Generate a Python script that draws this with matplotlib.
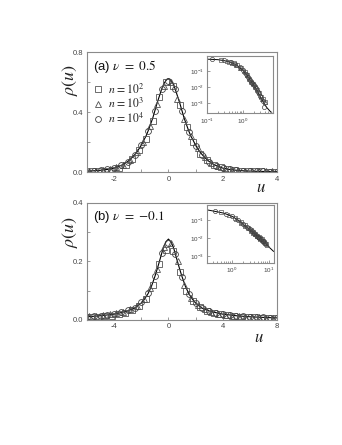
import matplotlib
matplotlib.use("Agg")
import matplotlib.pyplot as plt
from matplotlib.ticker import MultipleLocator, LogLocator, NullFormatter
import numpy as np

plt.rcParams['font.family'] = ['Liberation Sans', 'DejaVu Sans']
plt.rcParams['mathtext.fontset'] = 'stix'

# ---------------- Panel (a), nu = 0.5 ----------------
a_curve_u = [-3.0, -2.75, -2.5, -2.25, -2.0, -1.83, -1.67, -1.5, -1.33, -1.17, -1.0, -0.92, -0.83,
             -0.75, -0.67, -0.58, -0.5, -0.42, -0.33, -0.25, -0.17, -0.08, 0.0, 0.08, 0.17, 0.25,
             0.33, 0.42, 0.5, 0.58, 0.67, 0.75, 0.83, 0.92, 1.0, 1.17, 1.33, 1.5, 1.67, 1.83, 2.0,
             2.25, 2.5, 2.75, 3.0, 3.25, 3.5, 3.75, 4.0]
a_curve_r = [0.007, 0.010, 0.0135, 0.019, 0.028, 0.039, 0.052, 0.072, 0.10, 0.133, 0.18, 0.21, 0.24,
             0.275, 0.315, 0.36, 0.41, 0.46, 0.51, 0.555, 0.59, 0.615, 0.625, 0.615, 0.59, 0.555,
             0.51, 0.46, 0.41, 0.36, 0.315, 0.275, 0.24, 0.21, 0.18, 0.133, 0.10, 0.072, 0.052, 0.039,
             0.028, 0.019, 0.0135, 0.010, 0.008, 0.0065, 0.0055, 0.0045, 0.004]

a_circ_u = [-3.0, -2.75, -2.5, -2.25, -2.0, -1.75, -1.5, -1.25, -1.0, -0.75, -0.5, -0.25, 0.0, 0.25,
            0.5, 0.75, 1.0, 1.25, 1.5, 1.75, 2.0, 2.25, 2.5, 2.75, 3.0, 3.25, 3.5, 3.75, 4.0]
a_circ_r = [0.007, 0.010, 0.013, 0.019, 0.029, 0.046, 0.071, 0.116, 0.182, 0.278, 0.41, 0.553, 0.612,
            0.556, 0.412, 0.272, 0.178, 0.113, 0.070, 0.044, 0.029, 0.020, 0.014, 0.011, 0.009,
            0.007, 0.006, 0.005, 0.004]
a_tri_u = [-2.92, -2.67, -2.42, -2.17, -1.92, -1.67, -1.42, -1.17, -0.92, -0.67, -0.42, -0.17, 0.08,
           0.33, 0.58, 0.83, 1.08, 1.33, 1.58, 1.83, 2.08, 2.33, 2.58, 2.83, 3.08, 3.33, 3.58, 3.83]
a_tri_r = [0.008, 0.011, 0.016, 0.023, 0.034, 0.050, 0.085, 0.135, 0.205, 0.31, 0.455, 0.575, 0.60,
           0.49, 0.355, 0.24, 0.16, 0.10, 0.062, 0.040, 0.026, 0.018, 0.013, 0.011, 0.009, 0.008,
           0.007, 0.006]
a_sq_u = [-2.83, -2.58, -2.33, -2.08, -1.83, -1.58, -1.33, -1.08, -0.83, -0.58, -0.33, -0.08, 0.17,
          0.42, 0.67, 0.92, 1.17, 1.42, 1.67, 1.92, 2.17, 2.42, 2.67, 2.92, 3.17, 3.42, 3.67, 3.92]
a_sq_r = [0.006, 0.008, 0.012, 0.018, 0.030, 0.052, 0.090, 0.150, 0.225, 0.34, 0.50, 0.60, 0.575,
          0.45, 0.30, 0.20, 0.125, 0.080, 0.050, 0.033, 0.022, 0.015, 0.011, 0.009, 0.007, 0.006,
          0.005, 0.004]

# inset (a)
ai_curve_u = [0.1, 0.2, 0.3, 0.45, 0.65, 1.0, 1.3, 1.6, 2.0, 2.5, 3.0, 3.6, 4.5, 5.5, 6.8]
ai_curve_r = [0.57, 0.53, 0.46, 0.37, 0.25, 0.115, 0.055, 0.027, 0.013, 0.0058, 0.0026, 0.0012,
              5.5e-4, 3.3e-4, 2.0e-4]
ai_circ_u = [0.135, 0.3, 0.45, 0.6, 0.8, 1.0, 1.2, 1.4, 1.6, 1.8, 2.0, 2.3, 2.6, 3.0, 3.5, 3.8]
ai_circ_r = [0.56, 0.47, 0.37, 0.28, 0.18, 0.115, 0.07, 0.042, 0.028, 0.019, 0.013, 0.0085, 0.005,
             0.0028, 0.0013, 0.0006]
ai_sq_u = [0.25, 0.4, 0.55, 0.7, 0.9, 1.1, 1.3, 1.5, 1.7, 1.9, 2.2, 2.5, 2.8, 3.2, 3.6, 4.2]
ai_sq_r = [0.5, 0.4, 0.31, 0.23, 0.15, 0.09, 0.055, 0.034, 0.022, 0.016, 0.01, 0.0065, 0.0045,
           0.0025, 0.0018, 0.0011]
ai_tri_u = [0.35, 0.5, 0.65, 0.85, 1.05, 1.25, 1.45, 1.65, 1.85, 2.1, 2.4, 2.7, 3.1, 3.4, 4.0]
ai_tri_r = [0.44, 0.34, 0.26, 0.17, 0.10, 0.062, 0.04, 0.026, 0.018, 0.012, 0.0075, 0.005, 0.003,
            0.0019, 0.0012]

# ---------------- Panel (b), nu = -0.1 ----------------
b_curve_u = [-6.0, -5.0, -4.0, -3.5, -3.0, -2.5, -2.0, -1.75, -1.5, -1.25, -1.0, -0.8, -0.6, -0.4,
             -0.2, 0.0, 0.2, 0.4, 0.6, 0.8, 1.0, 1.25, 1.5, 1.75, 2.0, 2.5, 3.0, 3.5, 4.0, 5.0, 6.0,
             7.0, 8.0]
b_curve_r = [0.011, 0.0145, 0.020, 0.025, 0.031, 0.040, 0.058, 0.072, 0.090, 0.115, 0.148, 0.178,
             0.21, 0.243, 0.266, 0.276, 0.266, 0.243, 0.21, 0.178, 0.148, 0.115, 0.090, 0.072, 0.058,
             0.040, 0.031, 0.025, 0.020, 0.0145, 0.011, 0.0088, 0.0072]

b_circ_u = [-6.0, -5.5, -5.0, -4.5, -4.0, -3.5, -3.0, -2.5, -2.0, -1.5, -1.0, -0.5, 0.0, 0.5, 1.0,
            1.5, 2.0, 2.5, 3.0, 3.5, 4.0, 4.5, 5.0, 5.5, 6.0, 6.5, 7.0, 7.5, 8.0]
b_circ_r = [0.011, 0.012, 0.015, 0.018, 0.021, 0.026, 0.033, 0.042, 0.060, 0.092, 0.150, 0.228,
            0.262, 0.225, 0.146, 0.088, 0.058, 0.040, 0.030, 0.024, 0.020, 0.016, 0.014, 0.012,
            0.011, 0.010, 0.009, 0.008, 0.007]
b_tri_u = [-5.83, -5.33, -4.83, -4.33, -3.83, -3.33, -2.83, -2.33, -1.83, -1.33, -0.83, -0.33, 0.17,
           0.67, 1.17, 1.67, 2.17, 2.67, 3.17, 3.67, 4.17, 4.67, 5.17, 5.67, 6.17, 6.67, 7.17, 7.67]
b_tri_r = [0.012, 0.014, 0.016, 0.019, 0.023, 0.028, 0.036, 0.048, 0.070, 0.110, 0.175, 0.250,
           0.262, 0.200, 0.120, 0.075, 0.050, 0.036, 0.028, 0.022, 0.018, 0.015, 0.013, 0.011,
           0.010, 0.009, 0.008, 0.0075]
b_sq_u = [-5.67, -5.17, -4.67, -4.17, -3.67, -3.17, -2.67, -2.17, -1.67, -1.17, -0.67, -0.17, 0.33,
          0.83, 1.33, 1.83, 2.33, 2.83, 3.33, 3.83, 4.33, 4.83, 5.33, 5.83, 6.33, 6.83, 7.33, 7.83]
b_sq_r = [0.009, 0.011, 0.013, 0.015, 0.019, 0.024, 0.033, 0.047, 0.072, 0.118, 0.190, 0.240,
          0.235, 0.165, 0.100, 0.064, 0.043, 0.031, 0.024, 0.019, 0.016, 0.013, 0.011, 0.010,
          0.009, 0.008, 0.0075, 0.007]

# inset (b)
bi_curve_u = [0.22, 0.35, 0.6, 1.0, 1.5, 2.0, 3.0, 4.0, 6.0, 8.0, 10.0, 13.2]
bi_curve_r = [0.36, 0.30, 0.24, 0.16, 0.095, 0.058, 0.030, 0.018, 0.0085, 0.0048, 0.0031, 0.0018]
bi_circ_u = [0.35, 0.7, 1.0, 1.5, 2.0, 2.5, 3.0, 3.5, 4.0, 4.5, 5.0, 5.5, 6.0, 7.0, 8.0]
bi_circ_r = [0.30, 0.22, 0.16, 0.095, 0.06, 0.042, 0.031, 0.023, 0.018, 0.015, 0.012, 0.0105,
             0.009, 0.0066, 0.005]
bi_sq_u = [0.5, 1.2, 1.7, 2.2, 2.7, 3.2, 3.7, 4.2, 4.7, 5.2, 5.8, 6.3, 6.8, 7.5, 8.5]
bi_sq_r = [0.27, 0.13, 0.08, 0.05, 0.036, 0.027, 0.021, 0.017, 0.0135, 0.0115, 0.0095, 0.0082,
           0.0072, 0.006, 0.0046]
bi_tri_u = [0.85, 1.3, 1.8, 2.3, 2.8, 3.3, 3.8, 4.3, 4.8, 5.3, 5.8, 6.5, 7.2, 8.0, 9.0]
bi_tri_r = [0.19, 0.115, 0.072, 0.048, 0.034, 0.025, 0.02, 0.016, 0.013, 0.011, 0.0092, 0.0078,
            0.0064, 0.0052, 0.0041]

legend_labels = [r'$n\,=10^2$', r'$n\,=10^3$', r'$n\,=10^4$']
panel_titles = [r'(a) $\nu\ =\ 0.5$', r'(b) $\nu\ =\ $-0.1']

W, H = 342, 445
fig = plt.figure(figsize=(W / 100, H / 100), dpi=100)


def frac(l, t, r, b):
    return [l / W, 1 - b / H, (r - l) / W, (b - t) / H]


SPINE = '#8a8a8a'
TXT = '#444444'


def style(ax, fs=5.5, length=2.5):
    for s in ax.spines.values():
        s.set_color(SPINE)
        s.set_linewidth(0.8)
    ax.tick_params(which='both', direction='in', colors=SPINE, labelcolor=TXT,
                   labelsize=fs, width=0.6, top=False, right=False, pad=2.5)
    ax.tick_params(which='major', length=length)
    ax.tick_params(which='minor', length=length * 0.8)


def markers(ax, su, sr, tu, tr, cu, cr, ms=4.2, mew=0.6):
    h1, = ax.plot(su, sr, ls='none', marker='s', ms=ms * 0.9, mfc='none', mec='#555555', mew=mew)
    h2, = ax.plot(tu, tr, ls='none', marker='^', ms=ms, mfc='none', mec='#505050', mew=mew)
    h3, = ax.plot(cu, cr, ls='none', marker='o', ms=ms, mfc='none', mec='#404040', mew=mew)
    return [h1, h2, h3]


# ---- main (a)
ax1 = fig.add_axes(frac(87, 52.3, 277, 172.3))
ax1.plot(a_curve_u, a_curve_r, color='black', lw=0.8, zorder=1)
hs = markers(ax1, a_sq_u, a_sq_r, a_tri_u, a_tri_r, a_circ_u, a_circ_r)
ax1.set_xlim(-3, 4)
ax1.set_ylim(0, 0.8)
ax1.xaxis.set_major_locator(MultipleLocator(2))
ax1.xaxis.set_minor_locator(MultipleLocator(1))
ax1.yaxis.set_major_locator(MultipleLocator(0.4))
ax1.yaxis.set_minor_locator(MultipleLocator(0.2))
ax1.xaxis.set_major_formatter(plt.FuncFormatter(lambda v, p: f'{v:g}' if v > -2.5 else ''))
ax1.yaxis.set_major_formatter(plt.FuncFormatter(lambda v, p: f'{v:.1f}'))
style(ax1)
ax1.text(0.03, 0.88, panel_titles[0], transform=ax1.transAxes, fontsize=9.5,
         ha='left', va='center', color='#111111')
leg = ax1.legend(hs, legend_labels, loc='upper left', bbox_to_anchor=(0.0, 0.80),
                 frameon=False, fontsize=8.5, handlelength=0.8, handletextpad=0.5,
                 labelspacing=0.05, borderaxespad=0.3, borderpad=0.2)
for t in leg.get_texts():
    t.set_color('#222222')

# ---- main (b)
ax2 = fig.add_axes(frac(87, 202.7, 277, 320))
ax2.plot(b_curve_u, b_curve_r, color='black', lw=0.8, zorder=1)
markers(ax2, b_sq_u, b_sq_r, b_tri_u, b_tri_r, b_circ_u, b_circ_r)
ax2.set_xlim(-6, 8)
ax2.set_ylim(0, 0.4)
ax2.xaxis.set_major_locator(MultipleLocator(4))
ax2.xaxis.set_minor_locator(MultipleLocator(2))
ax2.yaxis.set_major_locator(MultipleLocator(0.2))
ax2.yaxis.set_minor_locator(MultipleLocator(0.1))
ax2.xaxis.set_major_formatter(plt.FuncFormatter(lambda v, p: f'{v:g}'))
ax2.yaxis.set_major_formatter(plt.FuncFormatter(lambda v, p: f'{v:.1f}'))
style(ax2)
ax2.text(0.03, 0.88, panel_titles[1], transform=ax2.transAxes, fontsize=9.5,
         ha='left', va='center', color='#111111', family=['STIXGeneral', 'DejaVu Serif'])
# keep "(b)" in sans like "(a)": draw label using mixed text
ax2.texts[-1].set_text(r'(b) $\nu\ =\ \mathrm{-0.1}$')
ax2.texts[-1].set_family(['Liberation Sans', 'DejaVu Sans'])

# axis labels
for yc in (80, 232):
    fig.text(70 / W, 1 - yc / H, r'$\rho(u)$', rotation=90, fontsize=13,
             ha='center', va='center', color='#222222')
for xc, yc in ((261, 188), (259, 337)):
    fig.text(xc / W, 1 - yc / H, r'$u$', fontsize=12, ha='center', va='center', color='#222222')


def log_inset(ax, xlim, ylim, xmaj):
    ax.set_xscale('log')
    ax.set_yscale('log')
    ax.set_xlim(*xlim)
    ax.set_ylim(*ylim)
    ax.xaxis.set_major_locator(plt.FixedLocator(xmaj))
    ax.xaxis.set_minor_locator(LogLocator(base=10, subs=np.arange(2, 10)))
    ax.xaxis.set_minor_formatter(NullFormatter())
    ax.yaxis.set_major_locator(plt.FixedLocator([1e-3, 1e-2, 1e-1]))
    ax.yaxis.set_minor_locator(plt.NullLocator())
    ax.yaxis.set_minor_formatter(NullFormatter())
    style(ax, fs=4.5, length=2.0)
    ax.set_facecolor('white')


# ---- inset (a)
ia = fig.add_axes(frac(207, 56, 273, 113))
ia.plot(ai_curve_u, ai_curve_r, color='black', lw=0.7, zorder=1)
markers(ia, ai_sq_u, ai_sq_r, ai_tri_u, ai_tri_r, ai_circ_u, ai_circ_r, ms=3.0, mew=0.5)
log_inset(ia, (0.1, 6.8), (2.4e-4, 0.9), [0.1, 1.0])

# ---- inset (b)
ib = fig.add_axes(frac(207.3, 205, 273.5, 262.5))
ib.plot(bi_curve_u, bi_curve_r, color='black', lw=0.7, zorder=1)
markers(ib, bi_sq_u, bi_sq_r, bi_tri_u, bi_tri_r, bi_circ_u, bi_circ_r, ms=3.0, mew=0.5)
log_inset(ib, (0.216, 13.2), (4.3e-4, 0.68), [1.0, 10.0])

fig.savefig('out.png', dpi=100)
